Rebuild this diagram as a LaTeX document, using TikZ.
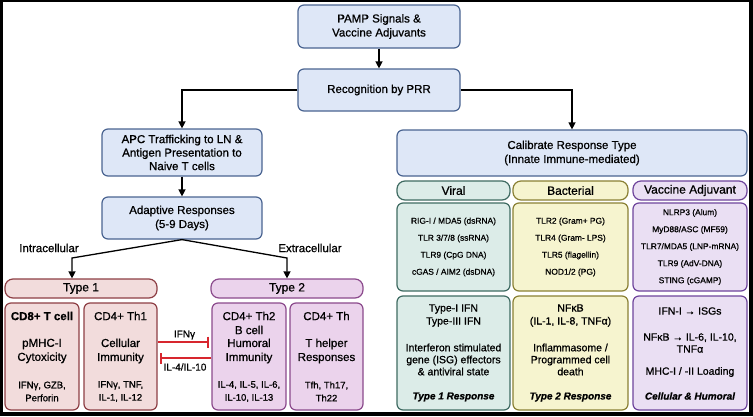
\documentclass[tikz,border=0pt]{standalone}
\usepackage{fontspec}
\setmainfont{Liberation Sans}[FakeBold=0.8]
\usetikzlibrary{arrows.meta}

\definecolor{bluefill}{HTML}{DEE7F7}
\definecolor{blueline}{HTML}{4A6491}
\definecolor{redfill}{HTML}{F2DCDC}
\definecolor{redline}{HTML}{8E3F45}
\definecolor{purpfill}{HTML}{EBD3EC}
\definecolor{purpline}{HTML}{8B4A8C}
\definecolor{greenfill}{HTML}{DCECE8}
\definecolor{greenline}{HTML}{3F6B62}
\definecolor{yelfill}{HTML}{F6F4CF}
\definecolor{yelline}{HTML}{8A8034}
\definecolor{vacfill}{HTML}{EADFF3}
\definecolor{vacline}{HTML}{6E449C}
\definecolor{inhred}{HTML}{D7262E}

\newcommand{\fsz}[2]{\fontsize{#1}{#2}\selectfont}

\begin{document}
\begin{tikzpicture}[x=1pt, y=-1pt,
    box/.style={draw, rounded corners=6pt, line width=1.2pt, inner sep=0pt, align=center, font=\fsz{11.5}{14}},
    bluebox/.style={box, fill=bluefill, draw=blueline},
    redbox/.style={box, fill=redfill, draw=redline},
    purpbox/.style={box, fill=purpfill, draw=purpline},
    greenbox/.style={box, fill=greenfill, draw=greenline},
    yelbox/.style={box, fill=yelfill, draw=yelline},
    vacbox/.style={box, fill=vacfill, draw=vacline},
    header/.style={minimum height=19, rounded corners=8pt},
    txt/.style={inner sep=0pt, align=center},
    arr/.style={-{Triangle[length=7pt,width=7pt]}, line width=1.3pt},
    inh/.style={-{Bar[width=11pt]}, draw=inhred, line width=2pt, shorten >=2pt}]

    % Frame
    \fill[black] (0,0) rectangle (753,416);
    \fill[white] (3,2) rectangle (749,412);

    % Top of the flow
    \node[bluebox, minimum width=162, minimum height=43] (pamp) at (379,26.5) {PAMP Signals \&\\Vaccine Adjuvants};
    \node[bluebox, minimum width=162, minimum height=42] (prr) at (379,90) {Recognition by PRR};
    \node[bluebox, minimum width=160, minimum height=47, font=\fsz{11.5}{13.5}] (apc) at (182,152.5) {APC Trafficking to LN \&\\Antigen Presentation to\\Naive T cells};
    \node[bluebox, minimum width=160, minimum height=42] (adapt) at (182,218) {Adaptive Responses\\(5-9 Days)};
    \node[bluebox, minimum width=350, minimum height=46] (calib) at (572,153) {Calibrate Response Type\\(Innate Immune-mediated)};

    \draw[arr] (pamp) -- (prr);
    \draw[arr] (prr.west) -| (apc.north);
    \draw[arr] (prr.east) -| (calib.north);
    \draw[arr] (apc) -- (adapt);

    % Adaptive side
    \node[redbox, header, minimum width=152, font=\fsz{12}{14}] (type1) at (81,288.5) {Type 1};
    \node[purpbox, header, minimum width=152, font=\fsz{12}{14}] (type2) at (287,288.5) {Type 2};

    \coordinate (bend1) at (72,258);
    \coordinate (bend2) at (287,258);
    \draw[arr] (adapt.south) -- (bend1) -- (bend1 |- type1.north);
    \draw[arr] (adapt.south) -- (bend2) -- (bend2 |- type2.north);
    \node[txt, font=\fsz{11.5}{14}] (intra) at (49,248) {Intracellular};
    \node[txt, font=\fsz{11.5}{14}] (extra) at (310,248) {Extracellular};

    \node[redbox, minimum width=74, minimum height=107] (cd8) at (42,356.5) {};
    \node[redbox, minimum width=73, minimum height=107] (th1) at (120.5,356.5) {};
    \node[purpbox, minimum width=74, minimum height=107] (th2) at (249,356.5) {};
    \node[purpbox, minimum width=73, minimum height=107] (thh) at (326.5,356.5) {};

    \node[txt, font=\fsz{11.5}{14}\bfseries] (cd8t) at (42,316) {CD8+ T cell};
    \node[txt, font=\fsz{11.5}{14}] (cd8m) at (42,351) {pMHC-I\\Cytoxicity};
    \node[txt, font=\fsz{9.5}{13}] (cd8b) at (42,391.5) {IFNγ, GZB,\\Perforin};

    \node[txt, font=\fsz{11.5}{14}] (th1t) at (120.5,316) {CD4+ Th1};
    \node[txt, font=\fsz{11.5}{14}] (th1m) at (120.5,351) {Cellular\\Immunity};
    \node[txt, font=\fsz{9.5}{13}] (th1b) at (120.5,391.5) {IFNγ, TNF,\\IL-1, IL-12};

    \node[txt, font=\fsz{11.5}{14}] (th2t) at (249,323) {CD4+ Th2\\B cell};
    \node[txt, font=\fsz{11.5}{14}] (th2m) at (249,351) {Humoral\\Immunity};
    \node[txt, font=\fsz{9.5}{13}] (th2b) at (249,391.5) {IL-4, IL-5, IL-6,\\IL-10, IL-13};

    \node[txt, font=\fsz{11.5}{14}] (thht) at (326.5,316) {CD4+ Th};
    \node[txt, font=\fsz{11.5}{14}] (thhm) at (326.5,351) {T helper\\Responses};
    \node[txt, font=\fsz{9.5}{13}] (thhb) at (326.5,391.5) {Tfh, Th17,\\Th22};

    % Cross inhibition
    \draw[inh] ([yshift=14.5pt]th1.east) -- ([yshift=14.5pt]th2.west);
    \draw[inh] ([yshift=-1.5pt]th2.west) -- ([yshift=-1.5pt]th1.east);
    \node[txt, font=\fsz{10}{12}] (ifng) at (184.5,335) {IFNγ};
    \node[txt, font=\fsz{10}{12}] (il4) at (185,367) {IL-4/IL-10};

    % Innate side
    \node[greenbox, header, minimum width=113, font=\fsz{12}{14}] (viral) at (453.5,190.5) {Viral};
    \node[yelbox, header, minimum width=115, font=\fsz{12}{14}] (bact) at (570.5,190.5) {Bacterial};
    \node[vacbox, header, minimum width=114, font=\fsz{12}{14}] (vacc) at (690,190.5) {Vaccine Adjuvant};

    \node[greenbox, minimum width=113, minimum height=88, font=\fsz{8.4}{17}] (viralrec) at (453.5,247) {RIG-I / MDA5 (dsRNA)\\TLR 3/7/8 (ssRNA)\\TLR9 (CpG DNA)\\cGAS / AIM2 (dsDNA)};
    \node[yelbox, minimum width=115, minimum height=88, font=\fsz{8.4}{17}] (bactrec) at (570.5,247) {TLR2 (Gram+ PG)\\TLR4 (Gram- LPS)\\TLR5 (flagellin)\\NOD1/2 (PG)};
    \node[vacbox, minimum width=114, minimum height=88, font=\fsz{8.4}{17}] (vaccrec) at (690,247) {NLRP3 (Alum)\\MyD88/ASC (MF59)\\TLR7/MDA5 (LNP-mRNA)\\TLR9 (AdV-DNA)\\STING (cGAMP)};

    \node[greenbox, minimum width=113, minimum height=114] (viralout) at (453.5,353) {};
    \node[yelbox, minimum width=115, minimum height=114] (bactout) at (570.5,353) {};
    \node[vacbox, minimum width=114, minimum height=114] (vaccout) at (690,353) {};

    \node[txt, font=\fsz{10.5}{13}] (viral1) at (453.5,315.5) {Type-I IFN\\Type-III IFN};
    \node[txt, font=\fsz{10.5}{12}] (viral2) at (453.5,359.5) {Interferon stimulated\\gene (ISG) effectors\\\& antiviral state};
    \node[txt, font=\fsz{10}{12}\bfseries\itshape] (viral3) at (453.5,397) {Type 1 Response};

    \node[txt, font=\fsz{10.5}{13}] (bact1) at (570.5,315.5) {NFκB\\(IL-1, IL-8, TNFα)};
    \node[txt, font=\fsz{10.5}{12}] (bact2) at (570.5,359.5) {Inflammasome /\\Programmed cell\\death};
    \node[txt, font=\fsz{10}{12}\bfseries\itshape] (bact3) at (570.5,397) {Type 2 Response};

    \node[txt, font=\fsz{10.5}{12}] (vacc1) at (690,311) {IFN-I → ISGs};
    \node[txt, font=\fsz{10.5}{12}] (vacc2) at (690,343) {NFκB → IL-6, IL-10,\\TNFα};
    \node[txt, font=\fsz{10.5}{12}] (vacc3) at (690,372) {MHC-I / -II Loading};
    \node[txt, font=\fsz{10}{12}\bfseries\itshape] (vacc4) at (690,396) {Cellular \& Humoral};
\end{tikzpicture}
\end{document}
